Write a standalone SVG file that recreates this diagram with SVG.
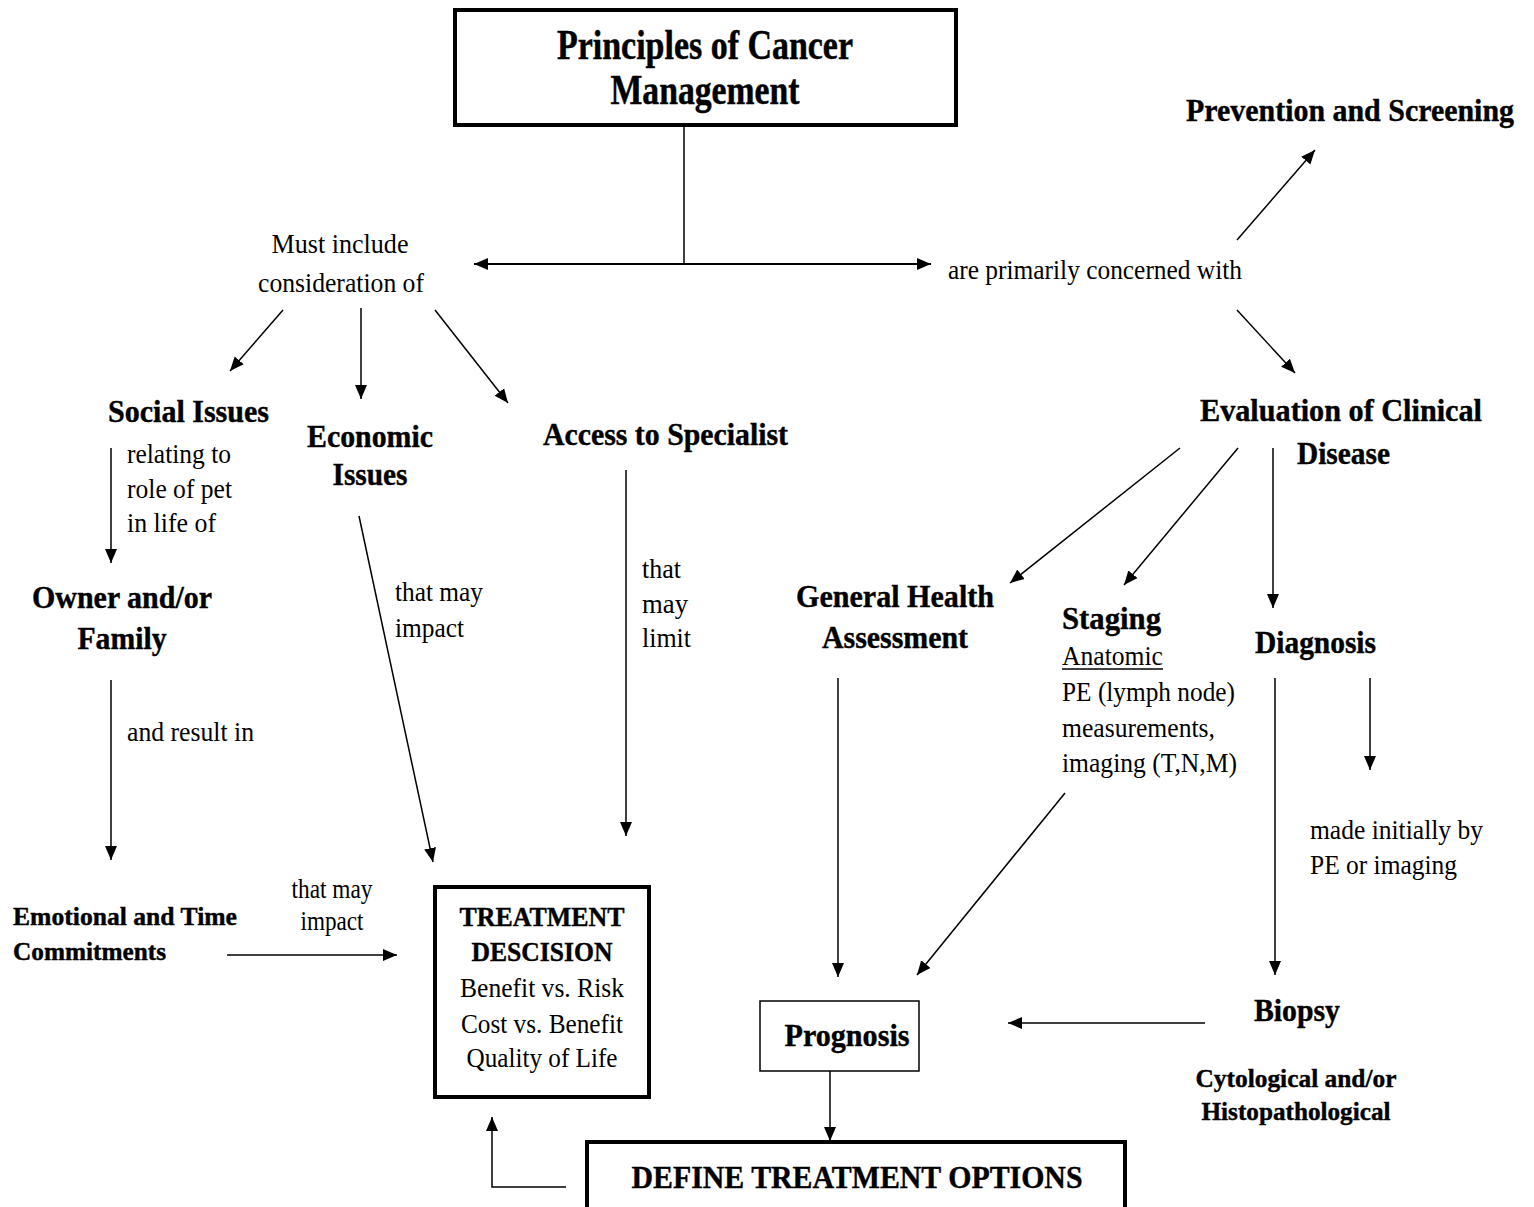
<svg xmlns="http://www.w3.org/2000/svg" width="1534" height="1207" viewBox="0 0 1534 1207" font-family="'Liberation Serif', 'Times New Roman', Times, serif">
<style>
text{font-family:'Liberation Serif','Times New Roman',Times,serif;fill:#000}
.b{font-weight:bold;font-size:32px;stroke:#000;stroke-width:0.4}
.r{font-size:27px}
.s{font-weight:bold;font-size:25px;stroke:#000;stroke-width:0.4}
.t{font-weight:bold;font-size:42px;stroke:#000;stroke-width:0.5}
.m{text-anchor:middle}
.ln{stroke:#000;stroke-width:1.5;fill:none}
.box{fill:#fff;stroke:#000}
</style>
<defs>
<marker id="arr" markerWidth="15" markerHeight="15" refX="14" refY="7.5" orient="auto-start-reverse" markerUnits="userSpaceOnUse">
<path d="M0,1.5 L14,7.5 L0,13.5 z" fill="#000"/>
</marker>
</defs>
<rect width="1534" height="1207" fill="#fff"/>

<g id="connectors">
<line class="ln" x1="684" y1="127" x2="684" y2="264"/>
<line class="ln" style="stroke-width:2" x1="474" y1="264" x2="931" y2="264" marker-start="url(#arr)" marker-end="url(#arr)"/>
<line class="ln" x1="1237" y1="240" x2="1315" y2="150" marker-end="url(#arr)"/>
<line class="ln" x1="1237" y1="310" x2="1295" y2="373" marker-end="url(#arr)"/>
<line class="ln" x1="283" y1="310" x2="230" y2="371" marker-end="url(#arr)"/>
<line class="ln" x1="361" y1="308" x2="361" y2="399" marker-end="url(#arr)"/>
<line class="ln" x1="435" y1="310" x2="508" y2="403" marker-end="url(#arr)"/>
<line class="ln" x1="111" y1="448" x2="111" y2="563" marker-end="url(#arr)"/>
<line class="ln" x1="111" y1="680" x2="111" y2="860" marker-end="url(#arr)"/>
<line class="ln" x1="227" y1="955" x2="397" y2="955" marker-end="url(#arr)"/>
<line class="ln" x1="359" y1="516" x2="433" y2="862" marker-end="url(#arr)"/>
<line class="ln" x1="626" y1="470" x2="626" y2="836" marker-end="url(#arr)"/>
<line class="ln" x1="1180" y1="448" x2="1010" y2="583" marker-end="url(#arr)"/>
<line class="ln" x1="1238" y1="448" x2="1124" y2="585" marker-end="url(#arr)"/>
<line class="ln" x1="1273" y1="448" x2="1273" y2="608" marker-end="url(#arr)"/>
<line class="ln" x1="1370" y1="678" x2="1370" y2="770" marker-end="url(#arr)"/>
<line class="ln" x1="1275" y1="678" x2="1275" y2="975" marker-end="url(#arr)"/>
<line class="ln" x1="838" y1="678" x2="838" y2="977" marker-end="url(#arr)"/>
<line class="ln" x1="1065" y1="793" x2="917" y2="975" marker-end="url(#arr)"/>
<line class="ln" x1="1205" y1="1023" x2="1008" y2="1023" marker-end="url(#arr)"/>
<line class="ln" x1="830" y1="1071" x2="830" y2="1141" marker-end="url(#arr)"/>
<polyline class="ln" points="566,1187 492,1187 492,1117" marker-end="url(#arr)"/>
</g>

<g id="principles">
<rect class="box" x="455" y="10" width="501" height="115" stroke-width="4"/>
<text class="t m" x="705" y="59" textLength="296" lengthAdjust="spacingAndGlyphs">Principles of Cancer</text>
<text class="t m" x="705" y="104" textLength="189" lengthAdjust="spacingAndGlyphs">Management</text>
</g>

<g id="must-include">
<text class="r m" x="340" y="253" textLength="137" lengthAdjust="spacingAndGlyphs">Must include</text>
<text class="r m" x="341" y="292" textLength="166" lengthAdjust="spacingAndGlyphs">consideration of</text>
</g>

<g id="concerned-with">
<text class="r" x="948" y="279" textLength="294" lengthAdjust="spacingAndGlyphs">are primarily concerned with</text>
</g>

<g id="prevention">
<text class="b" x="1186" y="121" textLength="328" lengthAdjust="spacingAndGlyphs">Prevention and Screening</text>
</g>

<g id="social-issues">
<text class="b" x="108" y="422" textLength="161" lengthAdjust="spacingAndGlyphs">Social Issues</text>
<text class="r" x="127" y="463" textLength="104" lengthAdjust="spacingAndGlyphs">relating to</text>
<text class="r" x="127" y="498" textLength="105" lengthAdjust="spacingAndGlyphs">role of pet</text>
<text class="r" x="127" y="532" textLength="89" lengthAdjust="spacingAndGlyphs">in life of</text>
</g>

<g id="economic-issues">
<text class="b m" x="370" y="447" textLength="126" lengthAdjust="spacingAndGlyphs">Economic</text>
<text class="b m" x="370" y="485" textLength="75" lengthAdjust="spacingAndGlyphs">Issues</text>
<text class="r" x="395" y="601" textLength="88" lengthAdjust="spacingAndGlyphs">that may</text>
<text class="r" x="395" y="637" textLength="69" lengthAdjust="spacingAndGlyphs">impact</text>
</g>

<g id="access-specialist">
<text class="b" x="543" y="445" textLength="245" lengthAdjust="spacingAndGlyphs">Access to Specialist</text>
<text class="r" x="642" y="578" textLength="39" lengthAdjust="spacingAndGlyphs">that</text>
<text class="r" x="642" y="613" textLength="46" lengthAdjust="spacingAndGlyphs">may</text>
<text class="r" x="642" y="647" textLength="49" lengthAdjust="spacingAndGlyphs">limit</text>
</g>

<g id="owner-family">
<text class="b m" x="122" y="608" textLength="180" lengthAdjust="spacingAndGlyphs">Owner and/or</text>
<text class="b m" x="122" y="649" textLength="89" lengthAdjust="spacingAndGlyphs">Family</text>
<text class="r" x="127" y="741" textLength="127" lengthAdjust="spacingAndGlyphs">and result in</text>
</g>

<g id="emotional-time">
<text class="s" x="13" y="925" textLength="224" lengthAdjust="spacingAndGlyphs">Emotional and Time</text>
<text class="s" x="13" y="960" textLength="153" lengthAdjust="spacingAndGlyphs">Commitments</text>
<text class="r m" x="332" y="898" textLength="81" lengthAdjust="spacingAndGlyphs">that may</text>
<text class="r m" x="332" y="930" textLength="63" lengthAdjust="spacingAndGlyphs">impact</text>
</g>

<g id="treatment-decision">
<rect class="box" x="435" y="887" width="214" height="210" stroke-width="4"/>
<text class="r m" font-weight="bold" stroke="#000" stroke-width="0.4" x="542" y="926" textLength="165" lengthAdjust="spacingAndGlyphs">TREATMENT</text>
<text class="r m" font-weight="bold" stroke="#000" stroke-width="0.4" x="542" y="961" textLength="141" lengthAdjust="spacingAndGlyphs">DESCISION</text>
<text class="r m" x="542" y="997" textLength="164" lengthAdjust="spacingAndGlyphs">Benefit vs. Risk</text>
<text class="r m" x="542" y="1033" textLength="162" lengthAdjust="spacingAndGlyphs">Cost vs. Benefit</text>
<text class="r m" x="542" y="1067" textLength="151" lengthAdjust="spacingAndGlyphs">Quality of Life</text>
</g>

<g id="evaluation">
<text class="b" x="1200" y="421" textLength="282" lengthAdjust="spacingAndGlyphs">Evaluation of Clinical</text>
<text class="b" x="1297" y="464" textLength="93" lengthAdjust="spacingAndGlyphs">Disease</text>
</g>

<g id="general-health">
<text class="b m" x="895" y="607" textLength="198" lengthAdjust="spacingAndGlyphs">General Health</text>
<text class="b m" x="895" y="648" textLength="146" lengthAdjust="spacingAndGlyphs">Assessment</text>
</g>

<g id="staging">
<text class="b" x="1062" y="629" textLength="99" lengthAdjust="spacingAndGlyphs">Staging</text>
<text class="r" x="1062" y="665" textLength="101" lengthAdjust="spacingAndGlyphs">Anatomic</text>
<line x1="1062" y1="669" x2="1163" y2="669" stroke="#000" stroke-width="1.5"/>
<text class="r" x="1062" y="701" textLength="173" lengthAdjust="spacingAndGlyphs">PE (lymph node)</text>
<text class="r" x="1062" y="737" textLength="153" lengthAdjust="spacingAndGlyphs">measurements,</text>
<text class="r" x="1062" y="772" textLength="175" lengthAdjust="spacingAndGlyphs">imaging (T,N,M)</text>
</g>

<g id="diagnosis">
<text class="b" x="1255" y="653" textLength="121" lengthAdjust="spacingAndGlyphs">Diagnosis</text>
<text class="r" x="1310" y="839" textLength="173" lengthAdjust="spacingAndGlyphs">made initially by</text>
<text class="r" x="1310" y="874" textLength="147" lengthAdjust="spacingAndGlyphs">PE or imaging</text>
</g>

<g id="biopsy">
<text class="b m" x="1297" y="1021" textLength="86" lengthAdjust="spacingAndGlyphs">Biopsy</text>
<text class="s m" x="1296" y="1087" textLength="201" lengthAdjust="spacingAndGlyphs">Cytological and/or</text>
<text class="s m" x="1296" y="1120" textLength="189" lengthAdjust="spacingAndGlyphs">Histopathological</text>
</g>

<g id="prognosis">
<rect class="box" x="760" y="1001" width="159" height="70" stroke-width="1.5"/>
<text class="b m" x="847" y="1046" textLength="125" lengthAdjust="spacingAndGlyphs">Prognosis</text>
</g>

<g id="define-options">
<rect class="box" x="587" y="1142" width="538" height="80" stroke-width="4"/>
<text class="b m" x="857" y="1188" textLength="451" lengthAdjust="spacingAndGlyphs">DEFINE TREATMENT OPTIONS</text>
</g>
</svg>
